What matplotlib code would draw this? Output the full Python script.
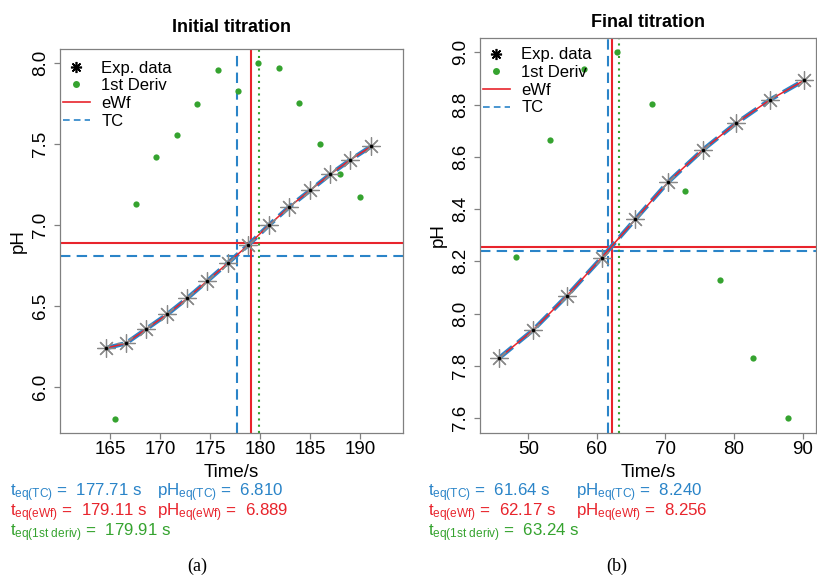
import numpy as np
import matplotlib.pyplot as plt
from matplotlib.lines import Line2D

plt.rcParams['font.family'] = ['Liberation Sans', 'DejaVu Sans']
plt.rcParams['mathtext.fontset'] = 'custom'
plt.rcParams['mathtext.rm'] = 'Liberation Sans'
plt.rcParams['mathtext.it'] = 'Liberation Sans'

# colours
blue = '#2a84c8'
red = '#e8242c'
green = '#35a32f'

# initial titration (a)
t_a = [164.6, 166.6, 168.6, 170.7, 172.7, 174.7, 176.8, 178.8, 180.9, 182.9, 185.0, 187.0, 189.0, 191.1]
ph_a = [6.238, 6.268, 6.355, 6.446, 6.545, 6.652, 6.765, 6.874, 6.999, 7.110, 7.213, 7.312, 7.401, 7.485]
td_a = [165.5, 167.6, 169.6, 171.7, 173.7, 175.8, 177.8, 179.8, 181.9, 183.9, 186.0, 188.0, 190.0]
deriv_a = [5.800, 7.129, 7.419, 7.559, 7.747, 7.957, 7.829, 8.000, 7.970, 7.751, 7.502, 7.312, 7.174]
teq_tc_a, pheq_tc_a = 177.71, 6.810
teq_ewf_a, pheq_ewf_a = 179.11, 6.889
teq_d_a = 179.91

# final titration (b)
t_b = [45.7, 50.7, 55.6, 60.7, 65.6, 70.4, 75.4, 80.3, 85.2, 90.2]
ph_b = [7.829, 7.937, 8.067, 8.214, 8.361, 8.504, 8.626, 8.729, 8.818, 8.893]
td_b = [48.2, 53.2, 58.1, 63.0, 68.0, 72.9, 77.9, 82.8, 87.8]
deriv_b = [8.218, 8.665, 8.938, 9.001, 8.803, 8.469, 8.129, 7.829, 7.601]
teq_tc_b, pheq_tc_b = 61.64, 8.240
teq_ewf_b, pheq_ewf_b = 62.17, 8.256
teq_d_b = 63.24

W, H = 817, 576
fig = plt.figure(figsize=(W / 100, H / 100), dpi=100)
ax1 = fig.add_axes([60 / W, 1 - 433 / H, 343 / W, 384 / H])
ax2 = fig.add_axes([480 / W, 1 - 433 / H, 336 / W, 395 / H])


def panel(ax, t, ph, td, dv, tc, ptc, ew, pew, td1, title, xlim, ylim, xticks, yticks,
          titlepad, leg_anchor):
    ax.plot(td, dv, 'o', color=green, ms=4.5, mec='none', zorder=3)
    ax.axvline(tc, color=blue, lw=1.5, ls=(0, (5, 3)), zorder=2)
    ax.axhline(ptc, color=blue, lw=1.5, ls=(0, (5, 3)), zorder=2)
    ax.axvline(ew, color=red, lw=1.5, zorder=2)
    ax.axhline(pew, color=red, lw=1.5, zorder=2)
    ax.axvline(td1, color=green, lw=1.5, ls=(0, (1, 2)), zorder=2)
    ax.plot(t, ph, ls=(0, (4, 1.5)), color=blue, lw=3.2, zorder=4)
    ax.plot(t, ph, '-', color=red, lw=1.1, zorder=5)
    ax.plot(t, ph, ls='none', marker=(8, 2, 0), ms=13, mew=0.9, color='#888888', zorder=6)
    ax.plot(t, ph, '.', color='black', ms=3, zorder=7)
    ax.set_xlim(*xlim)
    ax.set_ylim(*ylim)
    ax.set_xticks(xticks)
    ax.set_yticks(yticks)
    ax.set_yticklabels(['%.1f' % v for v in yticks])
    for s in ax.spines.values():
        s.set_color('#808080')
        s.set_linewidth(0.9)
    ax.tick_params(length=4, width=0.9, color='#808080', labelsize=13.5)
    ax.tick_params(axis='x', pad=2)
    ax.tick_params(axis='y', labelrotation=90, pad=4)
    for lab in ax.get_yticklabels():
        lab.set_va('center')
    ax.set_xlabel('Time/s', fontsize=13.5, labelpad=4)
    ax.set_ylabel('pH', fontsize=13.5, labelpad=4)
    ax.set_title(title, fontsize=13, fontweight='bold', pad=titlepad)

    handles = [
        Line2D([], [], ls='none', marker=(8, 2, 0), ms=8, mew=1.2, color='black'),
        Line2D([], [], ls='none', marker='o', ms=5, mec='none', color=green),
        Line2D([], [], color=red, lw=1.2),
        Line2D([], [], color=blue, lw=1.2, ls=(0, (4, 2.5))),
    ]
    ax.legend(handles, ['Exp. data', '1st Deriv', 'eWf', 'TC'], loc='upper left',
              bbox_to_anchor=leg_anchor, frameon=False, fontsize=12,
              handlelength=1.6, handletextpad=0.7, labelspacing=0.16,
              borderaxespad=0, borderpad=0)


panel(ax1, t_a, ph_a, td_a, deriv_a, teq_tc_a, pheq_tc_a, teq_ewf_a, pheq_ewf_a, teq_d_a,
      'Initial titration', (160.0, 194.3), (5.713, 8.088),
      [165, 170, 175, 180, 185, 190], [6.0, 6.5, 7.0, 7.5, 8.0], 12, (0.009, 0.97))
panel(ax2, t_b, ph_b, td_b, deriv_b, teq_tc_b, pheq_tc_b, teq_ewf_b, pheq_ewf_b, teq_d_b,
      'Final titration', (42.96, 91.94), (7.543, 9.055),
      [50, 60, 70, 80, 90], [7.6, 7.8, 8.0, 8.2, 8.4, 8.6, 8.8, 9.0], 8, (0.009, 0.976))


def ftext(x, y, s, **kw):
    fig.text(x / W, 1 - y / H, s, va='baseline', **kw)


fs = 12.2
for x0, x1, tc, ptc, ew, pew, td1 in [
        (10, 157, teq_tc_a, pheq_tc_a, teq_ewf_a, pheq_ewf_a, teq_d_a),
        (428, 576, teq_tc_b, pheq_tc_b, teq_ewf_b, pheq_ewf_b, teq_d_b)]:
    ftext(x0, 496, r'$\mathrm{t_{eq(TC)}}$ =  %.2f s' % tc, color=blue, fontsize=fs)
    ftext(x1, 496, r'$\mathrm{pH_{eq(TC)}}$ =  %.3f' % ptc, color=blue, fontsize=fs)
    ftext(x0, 516, r'$\mathrm{t_{eq(eWf)}}$ =  %.2f s' % ew, color=red, fontsize=fs)
    ftext(x1, 516, r'$\mathrm{pH_{eq(eWf)}}$ =  %.3f' % pew, color=red, fontsize=fs)
    ftext(x0, 536, r'$\mathrm{t_{eq(1st\ deriv)}}$ =  %.2f s' % td1, color=green, fontsize=fs)

fig.text(197 / W, 1 - 566 / H, '(a)', ha='center', va='center', fontsize=13,
         family='Liberation Serif')
fig.text(617 / W, 1 - 566 / H, '(b)', ha='center', va='center', fontsize=13,
         family='Liberation Serif')

fig.savefig('out.png', dpi=100)
